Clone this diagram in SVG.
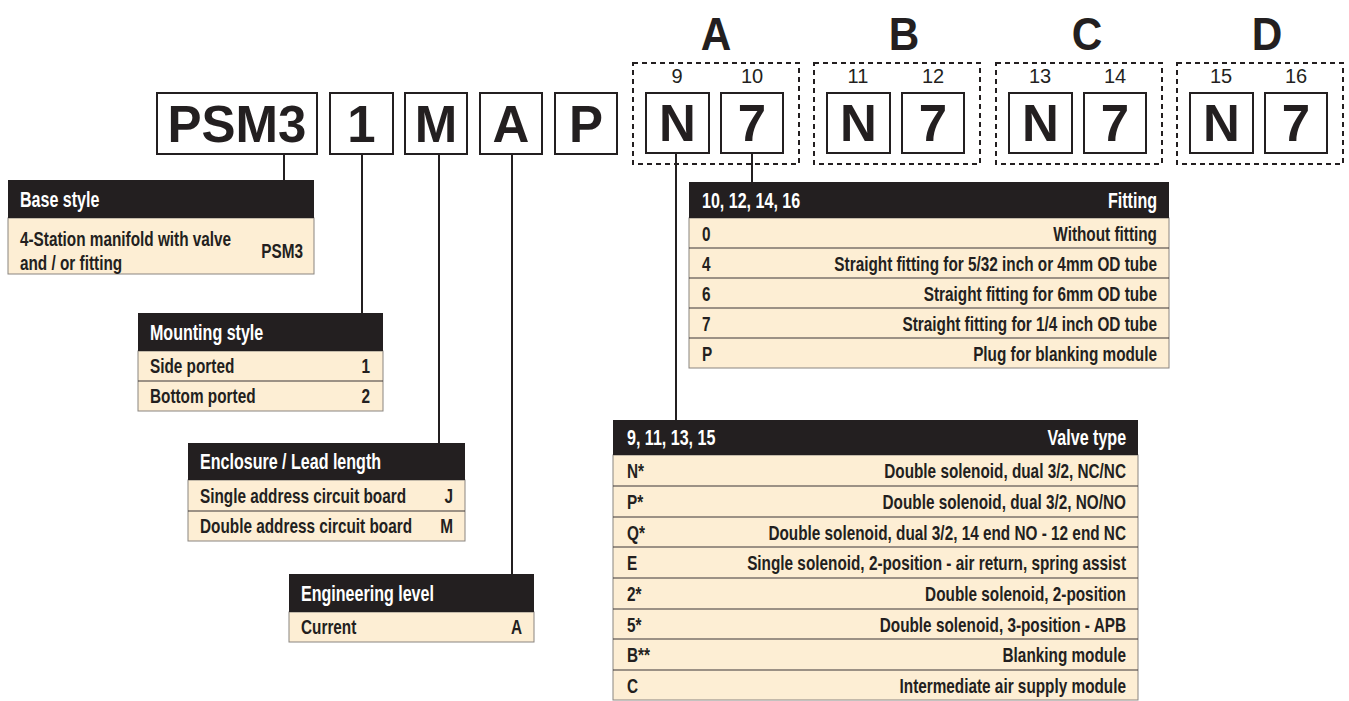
<svg xmlns="http://www.w3.org/2000/svg" width="1349" height="701" viewBox="0 0 1349 701">
<style>
.bg{fill:#ffffff}
.code{fill:#ffffff;stroke:#231f20;stroke-width:2}
.codet{font-family:"Liberation Sans",Arial,sans-serif;font-weight:bold;font-size:51px;fill:#231f20;text-anchor:middle}
.grp{fill:none;stroke:#231f20;stroke-width:2;stroke-dasharray:5 4}
.grpl{font-family:"Liberation Sans",Arial,sans-serif;font-weight:bold;font-size:47px;fill:#231f20;text-anchor:middle;transform-box:fill-box;transform-origin:center;transform:scaleX(0.9)}
.num{font-family:"Liberation Sans",Arial,sans-serif;font-size:20px;fill:#231f20;text-anchor:middle}
.hdr{fill:#231f20}
.body{fill:#fdeed4;stroke:#8a8580;stroke-width:1}
.div{stroke:#3a3536;stroke-width:1}
.ht,.bt{font-family:"Liberation Sans",Arial,sans-serif;font-weight:bold;transform-box:fill-box;transform-origin:left center;transform:scaleX(0.73)}
.ht{fill:#ffffff;font-size:22px}
.bt{fill:#231f20;font-size:21px}
.r{text-anchor:end;transform-origin:right center}
.conn{stroke:#231f20;stroke-width:2;fill:none}
</style>
<rect class="bg" x="0" y="0" width="1349" height="701"/>

<g id="connectors">
<line class="conn" x1="284" y1="154" x2="284" y2="180"/>
<line class="conn" x1="362" y1="154" x2="362" y2="313"/>
<line class="conn" x1="439" y1="154" x2="439" y2="443"/>
<line class="conn" x1="512" y1="154" x2="512" y2="574"/>
<line class="conn" x1="676" y1="153" x2="676" y2="420"/>
<line class="conn" x1="752" y1="153" x2="752" y2="182"/>
</g>

<g id="code-psm3"><rect class="code" x="157" y="93" width="160" height="61"/><text class="codet" x="237" y="142">PSM3</text></g>
<g id="code-1"><rect class="code" x="330" y="93" width="63" height="61"/><text class="codet" x="361.5" y="142">1</text></g>
<g id="code-m"><rect class="code" x="405" y="93" width="62" height="61"/><text class="codet" x="436" y="142">M</text></g>
<g id="code-a"><rect class="code" x="480" y="93" width="62" height="61"/><text class="codet" x="511" y="142">A</text></g>
<g id="code-p"><rect class="code" x="555" y="93" width="62" height="61"/><text class="codet" x="586" y="142">P</text></g>

<g id="group-a">
<text class="grpl" x="716" y="50">A</text>
<rect class="grp" x="633" y="63" width="166" height="101"/>
<text class="num" x="677" y="83">9</text><text class="num" x="752" y="83">10</text>
<rect class="code" x="646" y="93" width="63" height="60"/><text class="codet" x="677.5" y="141">N</text>
<rect class="code" x="721" y="93" width="62" height="60"/><text class="codet" x="752" y="141">7</text>
</g>
<g id="group-b">
<text class="grpl" x="904" y="50">B</text>
<rect class="grp" x="814" y="63" width="166" height="101"/>
<text class="num" x="858" y="83">11</text><text class="num" x="933" y="83">12</text>
<rect class="code" x="827" y="93" width="63" height="60"/><text class="codet" x="858.5" y="141">N</text>
<rect class="code" x="902" y="93" width="62" height="60"/><text class="codet" x="933" y="141">7</text>
</g>
<g id="group-c">
<text class="grpl" x="1087" y="50">C</text>
<rect class="grp" x="996" y="63" width="166" height="101"/>
<text class="num" x="1040" y="83">13</text><text class="num" x="1115" y="83">14</text>
<rect class="code" x="1009" y="93" width="63" height="60"/><text class="codet" x="1040.5" y="141">N</text>
<rect class="code" x="1084" y="93" width="62" height="60"/><text class="codet" x="1115" y="141">7</text>
</g>
<g id="group-d">
<text class="grpl" x="1267" y="50">D</text>
<rect class="grp" x="1177" y="63" width="166" height="101"/>
<text class="num" x="1221" y="83">15</text><text class="num" x="1296" y="83">16</text>
<rect class="code" x="1190" y="93" width="63" height="60"/><text class="codet" x="1221.5" y="141">N</text>
<rect class="code" x="1265" y="93" width="62" height="60"/><text class="codet" x="1296" y="141">7</text>
</g>

<g id="table-base-style">
<rect class="body" x="8" y="218" width="306" height="56"/>
<rect class="hdr" x="8" y="180" width="306" height="38"/>
<text class="ht" x="20" y="207">Base style</text>
<text class="bt" x="20" y="246">4-Station manifold with valve</text>
<text class="bt" x="20" y="270">and / or fitting</text>
<text class="bt r" x="303" y="258">PSM3</text>
</g>

<g id="table-mounting-style">
<rect class="body" x="138" y="351" width="245" height="60"/>
<rect class="hdr" x="138" y="313" width="245" height="38"/>
<line class="div" x1="138" y1="381" x2="383" y2="381"/>
<text class="ht" x="150" y="340">Mounting style</text>
<text class="bt" x="150" y="373">Side ported</text><text class="bt r" x="370" y="373">1</text>
<text class="bt" x="150" y="403">Bottom ported</text><text class="bt r" x="370" y="403">2</text>
</g>

<g id="table-enclosure">
<rect class="body" x="188" y="480" width="277" height="61"/>
<rect class="hdr" x="188" y="443" width="277" height="37"/>
<line class="div" x1="188" y1="511" x2="465" y2="511"/>
<text class="ht" x="200" y="469">Enclosure / Lead length</text>
<text class="bt" x="200" y="503">Single address circuit board</text><text class="bt r" x="453" y="503">J</text>
<text class="bt" x="200" y="533">Double address circuit board</text><text class="bt r" x="453" y="533">M</text>
</g>

<g id="table-engineering-level">
<rect class="body" x="289" y="612" width="245" height="30"/>
<rect class="hdr" x="289" y="574" width="245" height="38"/>
<text class="ht" x="301" y="601">Engineering level</text>
<text class="bt" x="301" y="634">Current</text><text class="bt r" x="522" y="634">A</text>
</g>

<g id="table-fitting">
<rect class="body" x="689" y="218" width="480" height="150"/>
<rect class="hdr" x="689" y="182" width="480" height="36"/>
<line class="div" x1="689" y1="248" x2="1169" y2="248"/>
<line class="div" x1="689" y1="278" x2="1169" y2="278"/>
<line class="div" x1="689" y1="308" x2="1169" y2="308"/>
<line class="div" x1="689" y1="338" x2="1169" y2="338"/>
<text class="ht" x="702" y="208">10, 12, 14, 16</text><text class="ht r" x="1157" y="208">Fitting</text>
<text class="bt" x="702" y="241">0</text><text class="bt r" x="1157" y="241">Without fitting</text>
<text class="bt" x="702" y="271">4</text><text class="bt r" x="1157" y="271">Straight fitting for 5/32 inch or 4mm OD tube</text>
<text class="bt" x="702" y="301">6</text><text class="bt r" x="1157" y="301">Straight fitting for 6mm OD tube</text>
<text class="bt" x="702" y="331">7</text><text class="bt r" x="1157" y="331">Straight fitting for 1/4 inch OD tube</text>
<text class="bt" x="702" y="361">P</text><text class="bt r" x="1157" y="361">Plug for blanking module</text>
</g>

<g id="table-valve-type">
<rect class="body" x="613" y="455" width="525" height="245"/>
<rect class="hdr" x="613" y="420" width="525" height="35"/>
<line class="div" x1="613" y1="486" x2="1138" y2="486"/>
<line class="div" x1="613" y1="517" x2="1138" y2="517"/>
<line class="div" x1="613" y1="547" x2="1138" y2="547"/>
<line class="div" x1="613" y1="578" x2="1138" y2="578"/>
<line class="div" x1="613" y1="609" x2="1138" y2="609"/>
<line class="div" x1="613" y1="639" x2="1138" y2="639"/>
<line class="div" x1="613" y1="670" x2="1138" y2="670"/>
<text class="ht" x="627" y="445">9, 11, 13, 15</text><text class="ht r" x="1126" y="445">Valve type</text>
<text class="bt" x="627" y="478">N*</text><text class="bt r" x="1126" y="478">Double solenoid, dual 3/2, NC/NC</text>
<text class="bt" x="627" y="509">P*</text><text class="bt r" x="1126" y="509">Double solenoid, dual 3/2, NO/NO</text>
<text class="bt" x="627" y="540">Q*</text><text class="bt r" x="1126" y="540">Double solenoid, dual 3/2, 14 end NO - 12 end NC</text>
<text class="bt" x="627" y="570">E</text><text class="bt r" x="1126" y="570">Single solenoid, 2-position - air return, spring assist</text>
<text class="bt" x="627" y="601">2*</text><text class="bt r" x="1126" y="601">Double solenoid, 2-position</text>
<text class="bt" x="627" y="632">5*</text><text class="bt r" x="1126" y="632">Double solenoid, 3-position - APB</text>
<text class="bt" x="627" y="662">B**</text><text class="bt r" x="1126" y="662">Blanking module</text>
<text class="bt" x="627" y="693">C</text><text class="bt r" x="1126" y="693">Intermediate air supply module</text>
</g>
</svg>
